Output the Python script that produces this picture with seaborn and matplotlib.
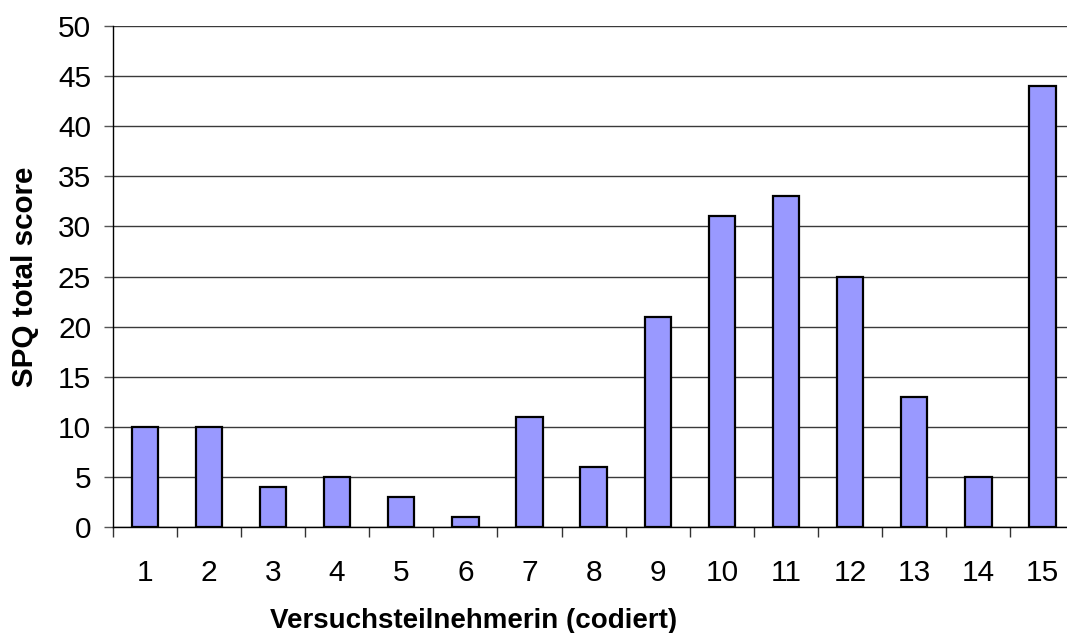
import matplotlib
matplotlib.use("Agg")
import matplotlib.pyplot as plt
from matplotlib.ticker import FixedLocator
import seaborn as sns
import pandas as pd
import numpy as np

# Participants (coded) and their SPQ total scores
participants = [str(i) for i in range(1, 16)]
spq_scores = [10, 10, 4, 5, 3, 1, 11, 6, 21, 31, 33, 25, 13, 5, 44]
y_ticks = list(range(0, 51, 5))

sns.set_theme(style="white")
plt.rcParams["font.family"] = ["Liberation Sans", "DejaVu Sans"]

df = pd.DataFrame({"participant": participants, "score": spq_scores})

fig = plt.figure(figsize=(10.67, 6.33), dpi=100)
ax = fig.add_axes([0.1056, 0.1667, 0.9015, 0.7927])

# horizontal gridlines behind the bars
ax.set_axisbelow(True)
ax.yaxis.grid(True, color="#3a3a3a", linewidth=1.0)
ax.xaxis.grid(False)

sns.barplot(data=df, x="participant", y="score", order=participants,
            color="#9999FF", saturation=1, edgecolor="black",
            linewidth=1.6, width=0.41, ax=ax)

ax.set_xlim(-0.5, len(participants) - 0.5)
ax.set_ylim(0, 50)
ax.set_yticks(y_ticks)
ax.set_yticklabels([str(t) for t in y_ticks])

# category separators as small ticks below the axis
ax.xaxis.set_minor_locator(FixedLocator(np.arange(-0.5, len(participants), 1.0)))
ax.tick_params(axis="x", which="major", length=0, pad=23, labelsize=21.5,
               colors="black")
ax.tick_params(axis="x", which="minor", length=7, width=1.0, color="#333333",
               direction="out", bottom=True)
ax.tick_params(axis="y", which="major", length=6.5, width=1.0, color="#555555",
               direction="out", left=True, pad=9, labelsize=21.5,
               labelcolor="black")

for side in ("top", "right"):
    ax.spines[side].set_visible(False)
for side in ("left", "bottom"):
    ax.spines[side].set_color("black")
    ax.spines[side].set_linewidth(1.0)

ax.set_xlabel("")
ax.set_ylabel("")
fig.text(0.4438, 0.008, "Versuchsteilnehmerin (codiert)", ha="center",
         va="baseline", fontsize=20, fontweight="bold", color="black")
fig.text(0.023, 0.5632, "SPQ total score", ha="center", va="center",
         rotation=90, fontsize=21.3, fontweight="bold", color="black")

fig.savefig("out.png", dpi=100)
